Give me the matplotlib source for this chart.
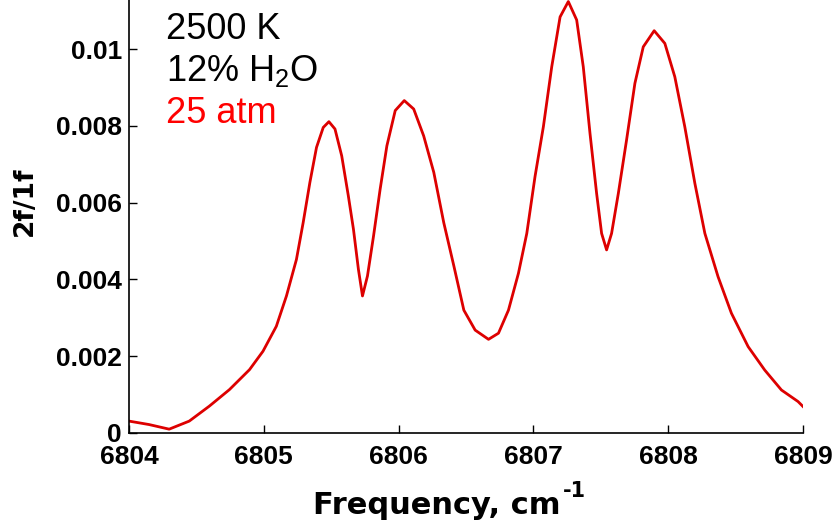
import matplotlib
matplotlib.use("Agg")
import matplotlib.pyplot as plt
from matplotlib.ticker import FuncFormatter

plt.rcParams['mathtext.fontset'] = 'custom'
plt.rcParams['mathtext.rm'] = 'Liberation Sans'

# spectrum
freq = [6804.000, 6804.149, 6804.298, 6804.447, 6804.596, 6804.745, 6804.894, 6804.994,
        6805.093, 6805.168, 6805.242, 6805.292, 6805.342, 6805.391, 6805.441, 6805.483,
        6805.528, 6805.578, 6805.627, 6805.665, 6805.702, 6805.732, 6805.769, 6805.814,
        6805.863, 6805.913, 6805.975, 6806.042, 6806.112, 6806.186, 6806.261, 6806.335,
        6806.410, 6806.484, 6806.568, 6806.667, 6806.741, 6806.815, 6806.889, 6806.951,
        6807.012, 6807.074, 6807.136, 6807.198, 6807.259, 6807.321, 6807.370, 6807.420,
        6807.469, 6807.506, 6807.543, 6807.580, 6807.630, 6807.691, 6807.753, 6807.815,
        6807.896, 6807.975, 6808.049, 6808.123, 6808.198, 6808.272, 6808.370, 6808.469,
        6808.593, 6808.716, 6808.840, 6808.963, 6809.000]
signal = [0.00031, 0.00022, 0.00010, 0.00031, 0.00070, 0.00113, 0.00165, 0.00213,
          0.00278, 0.00357, 0.00452, 0.00548, 0.00653, 0.00744, 0.00796, 0.00811,
          0.00792, 0.00722, 0.00618, 0.00531, 0.00426, 0.00357, 0.00409, 0.00513,
          0.00635, 0.00748, 0.00840, 0.00866, 0.00844, 0.00774, 0.00679, 0.00548,
          0.00435, 0.00320, 0.00268, 0.00244, 0.00260, 0.00320, 0.00416, 0.00520,
          0.00668, 0.00798, 0.00954, 0.01084, 0.01124, 0.01076, 0.00954, 0.00780,
          0.00624, 0.00520, 0.00477, 0.00520, 0.00624, 0.00763, 0.00911, 0.01006,
          0.01048, 0.01015, 0.00928, 0.00798, 0.00650, 0.00520, 0.00407, 0.00312,
          0.00225, 0.00164, 0.00112, 0.00082, 0.00069]

x_ticks = [6804, 6805, 6806, 6807, 6808, 6809]
y_ticks = [0, 0.002, 0.004, 0.006, 0.008, 0.01]
notes = ['2500 K', '12% H$_2$O', '25 atm']
note_colors = ['black', 'black', 'red']

W, H = 836, 524
fig = plt.figure(figsize=(W / 100, H / 100), dpi=100)
ax = fig.add_axes([129 / W, 1 - 433 / H, 674 / W, 433 / H])

ax.plot(freq, signal, color='#dd0000', lw=2)

ax.set_xlim(6804, 6809)
ax.set_ylim(0, 0.01128)
ax.set_xticks(x_ticks)
ax.set_yticks(y_ticks)
ax.yaxis.set_major_formatter(FuncFormatter(lambda v, p: '%g' % round(v, 4)))

for s in ['top', 'right']:
    ax.spines[s].set_visible(False)
for s in ['left', 'bottom']:
    ax.spines[s].set_linewidth(1.2)

ax.tick_params(direction='in', length=6, width=1, labelsize=19)
ax.tick_params(axis='x', pad=9)
ax.tick_params(axis='y', pad=5)
for lab in ax.get_xticklabels() + ax.get_yticklabels():
    lab.set_fontfamily('Liberation Sans')
    lab.set_fontweight('bold')

ax.set_ylabel('2f/1f', fontfamily='DejaVu Sans', fontweight='bold', fontsize=19)
ax.yaxis.set_label_coords(-0.135, 0.535)

# x label with a plain "-1" superscript like the original
xl = fig.text(313 / W, 1 - 514 / H, 'Frequency, cm', fontfamily='DejaVu Sans',
              fontweight='bold', fontsize=22, va='baseline', ha='left')
fig.canvas.draw()
bb = xl.get_window_extent().transformed(fig.transFigure.inverted())
fig.text(bb.x1 + 2 / W, 1 - 497 / H, '-1', fontfamily='DejaVu Sans',
         fontweight='bold', fontsize=15, va='baseline', ha='left')

for i, (t, c) in enumerate(zip(notes, note_colors)):
    fig.text(166 / W, 1 - (39 + 42 * i) / H, t, fontfamily='Liberation Sans',
             fontsize=26, color=c, va='baseline', ha='left')

fig.savefig('out.png', dpi=100)
